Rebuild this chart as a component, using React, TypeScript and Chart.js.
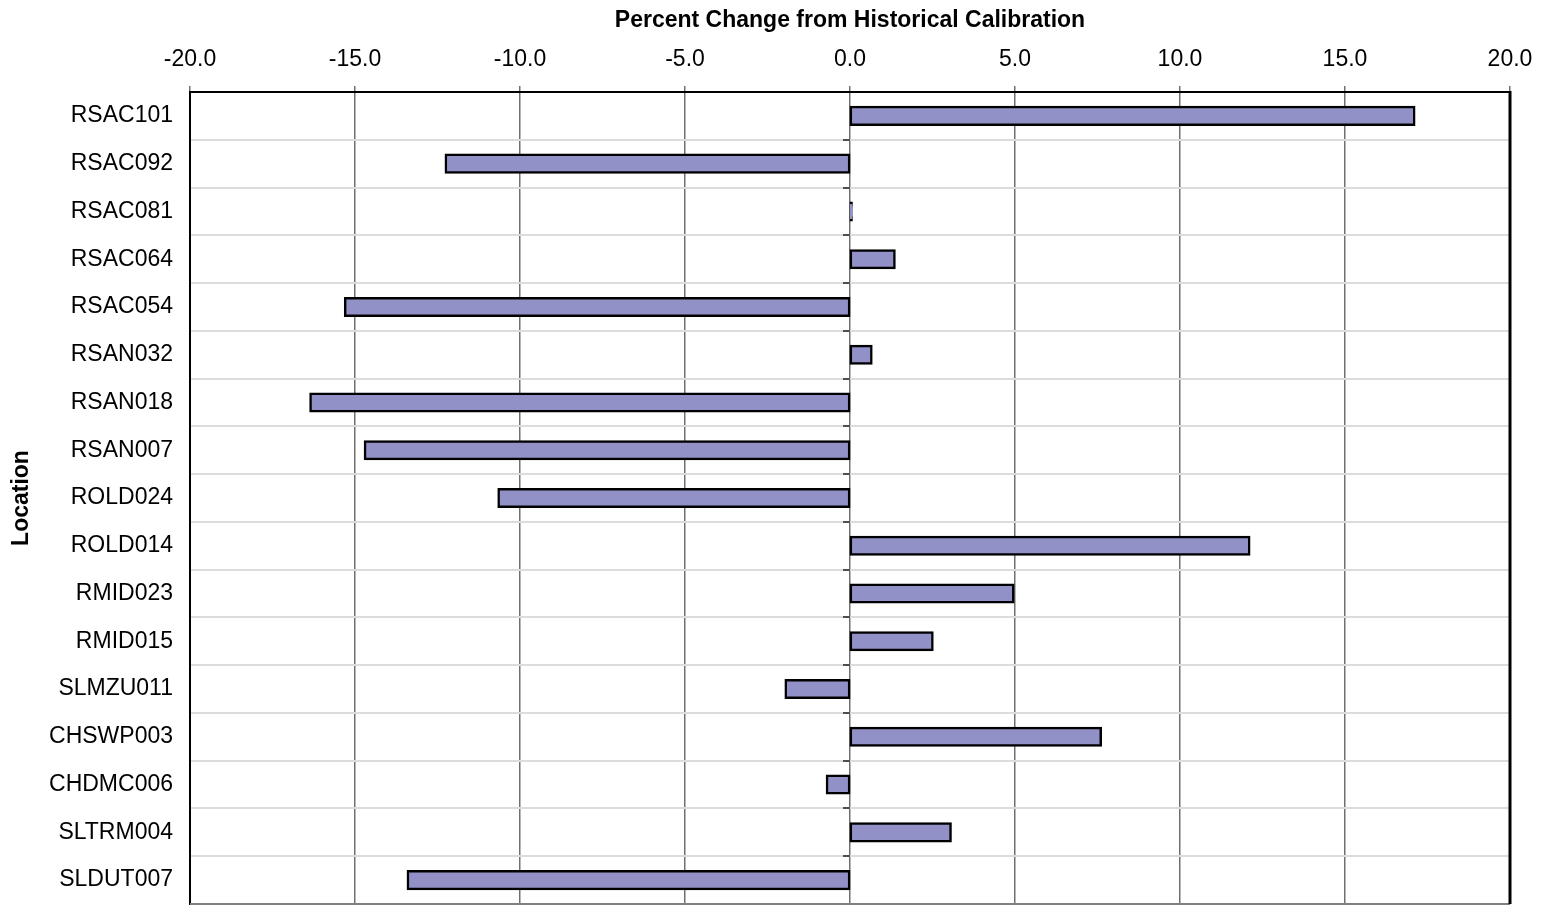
import React, { useEffect, useRef } from "react";
import { Chart, registerables } from "chart.js";

Chart.register(...registerables);

const locations = [
  "RSAC101", "RSAC092", "RSAC081", "RSAC064", "RSAC054", "RSAN032", "RSAN018", "RSAN007",
  "ROLD024", "ROLD014", "RMID023", "RMID015", "SLMZU011", "CHSWP003", "CHDMC006", "SLTRM004", "SLDUT007",
];
const percentChange = [
  17.1, -12.25, 0.05, 1.35, -15.3, 0.65, -16.35, -14.7,
  -10.65, 12.1, 4.95, 2.5, -1.95, 7.6, -0.7, 3.05, -13.4,
];
const xTitle = "Percent Change from Historical Calibration";
const yTitle = "Location";
const xMin = -20;
const xMax = 20;
const xStep = 5;

const FONT = "Arial, 'Liberation Sans', sans-serif";
const W = 1547;
const H = 905;

const framePlugin = {
  id: "frame",
  afterDraw(chart: any) {
    const { ctx, chartArea } = chart;
    const xs = chart.scales.x;
    const ys = chart.scales.y;
    ctx.save();
    const x0 = xs.getPixelForValue(0);
    ctx.strokeStyle = "#202020";
    ctx.lineWidth = 1.5;
    const n = chart.data.labels.length;
    for (let i = 1; i < n; i++) {
      const y = Math.round((ys.getPixelForValue(i - 1) + ys.getPixelForValue(i)) / 2);
      ctx.beginPath();
      ctx.moveTo(x0 - 7, y);
      ctx.lineTo(x0, y);
      ctx.stroke();
    }
    ctx.strokeStyle = "#808080";
    ctx.lineWidth = 2;
    ctx.beginPath();
    ctx.moveTo(chartArea.left, chartArea.bottom);
    ctx.lineTo(chartArea.right, chartArea.bottom);
    ctx.stroke();
    ctx.strokeStyle = "#000";
    ctx.lineWidth = 3;
    ctx.beginPath();
    ctx.moveTo(chartArea.right, chartArea.top - 1);
    ctx.lineTo(chartArea.right, chartArea.bottom);
    ctx.stroke();
    ctx.restore();
  },
};

export default function App() {
  const ref = useRef<HTMLCanvasElement>(null);
  useEffect(() => {
    if (!ref.current) return;
    const chart = new Chart(ref.current, {
      type: "bar",
      data: {
        labels: locations,
        datasets: [
          {
            data: percentChange,
            backgroundColor: "#9191c8",
            borderColor: "#000000",
            borderWidth: 2.5,
            borderSkipped: false,
            inflateAmount: 1.2,
            categoryPercentage: 1,
            barPercentage: 0.37,
          },
        ],
      },
      options: {
        indexAxis: "y",
        animation: false,
        responsive: false,
        maintainAspectRatio: false,
        devicePixelRatio: 1,
        layout: { padding: { left: 0, top: 0, right: 37, bottom: 1 } },
        plugins: { legend: { display: false }, tooltip: { enabled: false } },
        scales: {
          x: {
            type: "linear",
            position: "top",
            min: xMin,
            max: xMax,
            afterFit: (s: any) => {
              s.height = 92;
              s.paddingLeft = 0;
              s.paddingRight = 0;
            },
            ticks: {
              stepSize: xStep,
              color: "#000",
              font: { family: FONT, size: 23 },
              padding: 13,
              callback: (v: any) => Number(v).toFixed(1),
            },
            grid: { color: "#707070", lineWidth: 1.5, drawTicks: true, tickLength: 6 },
            border: { color: "#000", width: 2 },
            title: {
              display: true,
              text: xTitle,
              color: "#000",
              font: { family: FONT, size: 23, weight: "bold" },
              padding: { top: 7, bottom: 0 },
            },
          },
          y: {
            type: "category",
            position: "left",
            offset: true,
            afterFit: (s: any) => {
              s.width = 190;
              s.paddingTop = 0;
              s.paddingBottom = 0;
            },
            ticks: {
              color: "#000",
              font: { family: FONT, size: 23 },
              padding: 17,
              autoSkip: false,
            },
            grid: { color: "#dcdcdc", lineWidth: 2, offset: true, drawTicks: false },
            border: { color: "#000", width: 2 },
            title: {
              display: true,
              text: yTitle,
              color: "#000",
              font: { family: FONT, size: 23, weight: "bold" },
              padding: { top: 8, bottom: 0 },
            },
          },
        },
      },
      plugins: [framePlugin],
    } as any);
    return () => chart.destroy();
  }, []);
  return (
    <div style={{ position: "fixed", left: 0, top: 0, width: W, height: H, background: "#fff" }}>
      <canvas ref={ref} width={W} height={H} style={{ display: "block", width: W, height: H }} />
    </div>
  );
}
